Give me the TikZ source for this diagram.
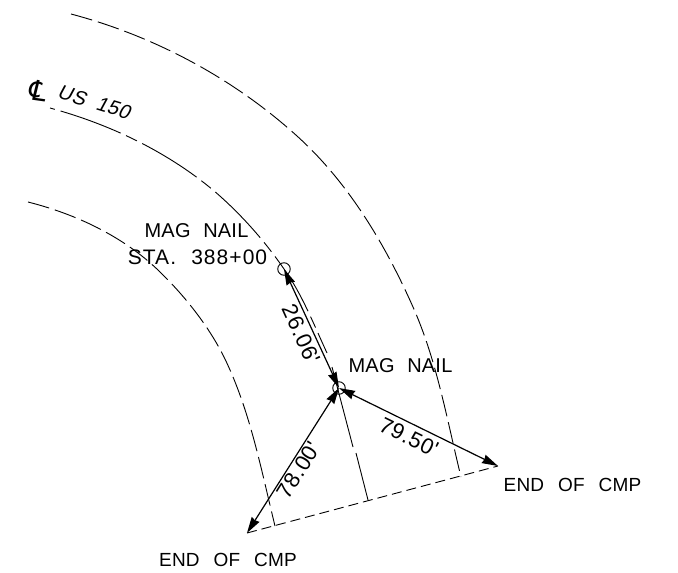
\documentclass[tikz,border=0pt]{standalone}
\usepackage{fontspec}
\setmainfont{Liberation Sans}
\newfontfamily\cadfont[LetterSpace=1]{Liberation Sans}
\newfontfamily\cadwide[LetterSpace=5,WordSpace=2.2]{Liberation Sans}
\newfontfamily\caddim[LetterSpace=3]{Liberation Sans}
\newfontfamily\cadslant[LetterSpace=2,WordSpace=2.0,FakeSlant=0.2]{Liberation Sans}
\newfontfamily\cadsym[FakeSlant=0.1]{DejaVu Sans}
\usetikzlibrary{arrows.meta}
\tikzset{
  curveline/.style={line width=0.9pt,dash pattern=on 22pt off 6pt},
  centerline/.style={line width=0.9pt,dash pattern=on 64pt off 6pt on 12pt off 6pt,dash phase=77pt},
  solidline/.style={line width=0.9pt},
  dimline/.style={line width=1.2pt,{Stealth[length=16pt,width=9pt,inset=1pt]}-{Stealth[length=16pt,width=9pt,inset=1pt]}},
  chord/.style={line width=0.9pt,dash pattern=on 10pt off 5pt},
  nail/.style={circle,draw,line width=0.9pt,minimum size=12.5pt,inner sep=0pt},
  cadtext/.style={font=\cadfont\fontsize{20}{20}\selectfont,inner sep=0pt,text=black},
  endtext/.style={font=\cadfont\fontsize{19}{19}\selectfont,inner sep=0pt,text=black},
  statext/.style={font=\cadwide\fontsize{21}{21}\selectfont,inner sep=0pt,text=black},
  dimtext/.style={font=\caddim\fontsize{22}{22}\selectfont,inner sep=0pt,text=black}
}
\begin{document}
\begin{tikzpicture}[x=1pt,y=-1pt]
\useasboundingbox (0,0) rectangle (678,573);
\draw[curveline] (71,14) .. controls (154,36) and (233,78) .. (297,136)
  .. controls (348,182) and (385,244) .. (413,307)
  .. controls (437,361) and (447,420) .. (461,477);
\draw[centerline] (50,108) .. controls (109,124) and (166,151) .. (213,190)
  .. controls (240,213) and (264,240) .. (284,269)
  .. controls (302,294) and (314,325) .. (327,353);
\draw[solidline] (332,367) -- (353,447);
\draw[solidline] (356,453) -- (368,500);
\draw[curveline] (28,202) .. controls (75.5,214) and (122.5,236) .. (158,270)
  .. controls (184,295) and (208,325) .. (224,357)
  .. controls (250,410) and (261,469) .. (275,526);
\node[nail] (n1) at (284,269) {};
\node[nail] (n2) at (339,388) {};
\coordinate (eR) at (498,466);
\coordinate (eL) at (247,533);
\draw[chord] (eL) -- (eR);
\draw[dimline] (n1.center) -- (n2.center);
\draw[dimline] (n2.center) -- (eR);
\draw[dimline] (n2.center) -- (eL);
\node[cadtext,anchor=center] (t1) at (196.5,231) {MAG \hspace{7pt}NAIL};
\node[statext,anchor=center] (t2) at (197.5,257) {STA. 388+00};
\node[cadtext,anchor=center] (t3) at (400.5,366) {MAG \hspace{7pt}NAIL};
\node[endtext,anchor=center] (t4) at (572.5,485) {END \hspace{8.5pt}OF \hspace{8.5pt}CMP};
\node[endtext,anchor=center] (t5) at (228,560) {END \hspace{8.5pt}OF \hspace{8.5pt}CMP};
\node[dimtext,rotate=-65.6] (d1) at (301,334) {26.06'};
\node[dimtext,rotate=-26] (d2) at (409,437) {79.50'};
\node[dimtext,rotate=58] (d3) at (299,470) {78.00'};
\node[inner sep=0pt,rotate=-17,font=\cadslant\fontsize{20}{20}\selectfont] (t6) at (94,102) {US 150};
\node[inner sep=0pt,rotate=-8,font=\cadsym\fontsize{28}{28}\selectfont] (t7) at (38,91) {℄};
\end{tikzpicture}
\end{document}
